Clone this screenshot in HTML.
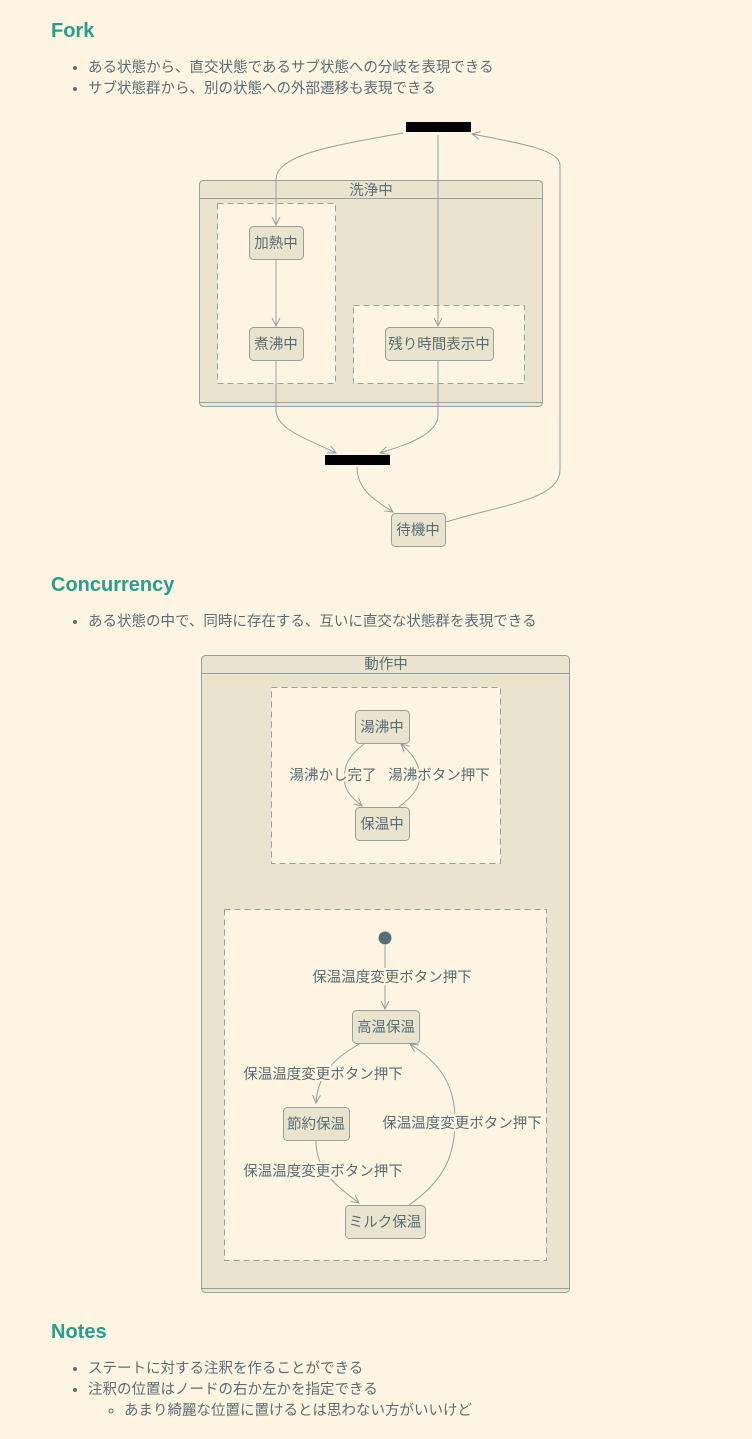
<!DOCTYPE html>
<html><head><meta charset="utf-8"><style>
body{margin:0;background:#fdf5e2;width:752px;height:1439px;position:relative;overflow:hidden;font-family:"Liberation Sans","Noto Sans CJK JP",sans-serif;color:#586e75}
h2{position:absolute;left:51px;margin:0;font-size:20px;font-weight:bold;color:#2a9d8f;line-height:24px}
ul{position:absolute;left:48px;margin:0;padding-left:40px;font-size:14.5px;line-height:21px}
ul ul{position:static;padding-left:36px;list-style:circle}
svg{position:absolute;left:0;top:0}
svg text{font-family:"Liberation Sans","Noto Sans CJK JP",sans-serif;font-size:14.5px;fill:#586e75}
</style></head><body>
<h2 style="top:19px">Fork</h2>
<ul style="top:58px"><li>ある状態から、直交状態であるサブ状態への分岐を表現できる</li><li>サブ状態群から、別の状態への外部遷移も表現できる</li></ul>
<h2 style="top:573px">Concurrency</h2>
<ul style="top:612px"><li>ある状態の中で、同時に存在する、互いに直交な状態群を表現できる</li></ul>
<h2 style="top:1320px">Notes</h2>
<ul style="top:1359px"><li>ステートに対する注釈を作ることができる</li><li>注釈の位置はノードの右か左かを指定できる<ul><li>あまり綺麗な位置に置けるとは思わない方がいいけど</li></ul></li></ul>
<svg width="752" height="1439" viewBox="0 0 752 1439">
<defs><marker id="a" markerWidth="10" markerHeight="10" refX="8" refY="5" orient="auto" markerUnits="userSpaceOnUse"><path d="M0,1 L8,5 L0,9 M8,5 L3,5" fill="none" stroke="#93a1a1" stroke-width="1"/></marker></defs>
<g stroke="#93a1a1" fill="#eae4cf">
<rect x="199.5" y="180.5" width="343" height="226" rx="4"/>
<line x1="199" y1="198.5" x2="542" y2="198.5"/><line x1="199" y1="402.5" x2="542" y2="402.5"/>
<rect x="217.5" y="203.5" width="118" height="180" fill="#fdf5e2" stroke-dasharray="6,4"/>
<rect x="353.5" y="305.5" width="171" height="78" fill="#fdf5e2" stroke-dasharray="6,4"/>
<rect x="249.5" y="226.5" width="54" height="33" rx="4"/>
<rect x="249.5" y="327.5" width="54" height="33" rx="4"/>
<rect x="385.5" y="327.5" width="108" height="33" rx="4"/>
<rect x="391.5" y="513.5" width="54" height="33" rx="4"/>
<rect x="201.5" y="655.5" width="368" height="637" rx="4"/>
<line x1="201" y1="673.5" x2="569" y2="673.5"/><line x1="201" y1="1288.5" x2="569" y2="1288.5"/>
<rect x="271.5" y="687.5" width="229" height="176" fill="#fdf5e2" stroke-dasharray="6,4"/>
<rect x="224.5" y="909.5" width="322" height="351" fill="#fdf5e2" stroke-dasharray="6,4"/>
<rect x="355.5" y="710.5" width="54" height="33" rx="4"/>
<rect x="355.5" y="807.5" width="54" height="33" rx="4"/>
<rect x="352.5" y="1010.5" width="67" height="33" rx="4"/>
<rect x="283.5" y="1107.5" width="66" height="33" rx="4"/>
<rect x="345.5" y="1205.5" width="80" height="33" rx="4"/>
</g>
<rect x="406" y="122" width="65" height="10" fill="#000"/>
<rect x="325" y="455" width="65" height="10" fill="#000"/>
<circle cx="385" cy="938" r="6.5" fill="#586e75"/>
<g stroke="#93a1a1" fill="none" marker-end="url(#a)">
<path d="M403,133 C330,146 276,155 276,180 L276,225"/>
<path d="M438,135 L438,326"/>
<path d="M276,260 L276,326"/>
<path d="M276,361 L276,410 C276,430 310,440 336,453"/>
<path d="M438,361 L438,415 C438,435 405,445 380,453"/>
<path d="M357,467 C357,490 375,500 393,512"/>
<path d="M446,522 C500,505 560,500 560,470 L560,165 C560,150 520,143 472,134"/>
<path d="M364,744 C350,755 342,765 345,785 C348,795 355,800 362,806"/>
<path d="M399,807 C412,797 420,788 420,775 C418,760 410,752 401,744"/>
<path d="M385,945 L385,1009"/>
<path d="M361,1043 C340,1055 318,1070 316,1103"/>
<path d="M316,1141 C316,1170 335,1185 359,1203"/>
<path d="M409,1205 C445,1180 455,1155 455,1120 C455,1080 435,1060 410,1044"/>
</g>
<g text-anchor="middle">
<text x="371" y="195" font-size="13.5">洗浄中</text>
<text x="276" y="248">加熱中</text>
<text x="276" y="349">煮沸中</text>
<text x="439" y="349">残り時間表示中</text>
<text x="418" y="535">待機中</text>
<text x="386" y="669" font-size="13.5">動作中</text>
<text x="382" y="732">湯沸中</text>
<text x="382" y="829">保温中</text>
<text x="333" y="780" style="paint-order:stroke" stroke="#fdf5e2" stroke-width="4">湯沸かし完了</text>
<text x="439" y="780" style="paint-order:stroke" stroke="#fdf5e2" stroke-width="4">湯沸ボタン押下</text>
<text x="392" y="982" style="paint-order:stroke" stroke="#fdf5e2" stroke-width="4">保温温度変更ボタン押下</text>
<text x="386" y="1032">高温保温</text>
<text x="316" y="1129">節約保温</text>
<text x="385" y="1227">ミルク保温</text>
<text x="323" y="1079" style="paint-order:stroke" stroke="#fdf5e2" stroke-width="4">保温温度変更ボタン押下</text>
<text x="462" y="1128" style="paint-order:stroke" stroke="#fdf5e2" stroke-width="4">保温温度変更ボタン押下</text>
<text x="323" y="1176" style="paint-order:stroke" stroke="#fdf5e2" stroke-width="4">保温温度変更ボタン押下</text>
</g>
</svg>
</body></html>
